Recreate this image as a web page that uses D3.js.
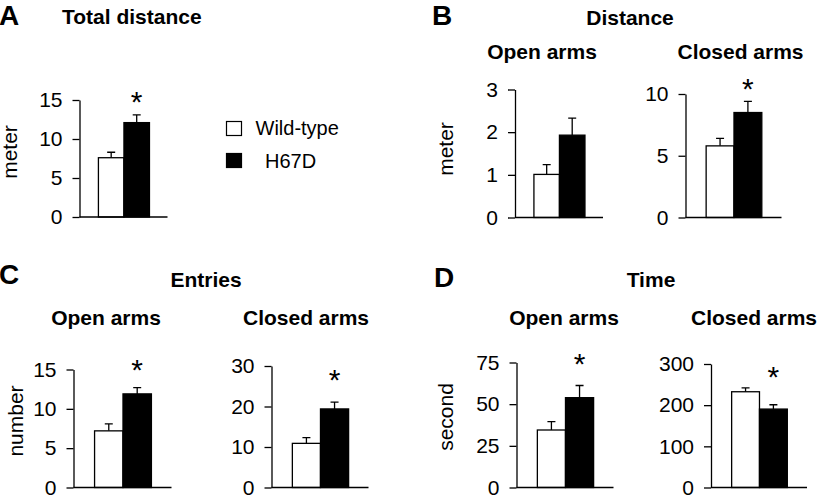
<!DOCTYPE html>
<html>
<head>
<meta charset="utf-8">
<script src="https://cdn.jsdelivr.net/npm/d3@7"></script>
<style>
  body { margin: 0; background: #fff; }
  svg { display: block; }
  text { font-family: "Liberation Sans", Arial, sans-serif; fill: #000; }
</style>
</head>
<body>
<div id="chart"></div>
<script>
// groups (legend order)
const groups = ["Wild-type", "H67D"];

// A: total distance (meter)
const totalDistMean = [7.6, 12.1];
const totalDistSem = [0.7, 1.0];
const totalDistTicks = [0, 5, 10, 15];

// B: distance in open / closed arms (meter)
const distOpenMean = [1.01, 1.93];
const distOpenSem = [0.23, 0.40];
const distOpenTicks = [0, 1, 2, 3];
const distClosedMean = [5.8, 8.5];
const distClosedSem = [0.6, 0.9];
const distClosedTicks = [0, 5, 10];

// C: entries (number)
const entriesOpenMean = [7.2, 11.9];
const entriesOpenSem = [0.9, 0.8];
const entriesOpenTicks = [0, 5, 10, 15];
const entriesClosedMean = [10.9, 19.4];
const entriesClosedSem = [1.4, 1.7];
const entriesClosedTicks = [0, 10, 20, 30];

// D: time (second)
const timeOpenMean = [34.5, 53.9];
const timeOpenSem = [5.0, 7.3];
const timeOpenTicks = [0, 25, 50, 75];
const timeClosedMean = [232.6, 190.5];
const timeClosedSem = [9.4, 10.5];
const timeClosedTicks = [0, 100, 200, 300];

// level of the significance star, in data units (null = none)
const starLevels = [15.6, null, 11.0, 15.8, 28.3, 78.6, 285];

const width = 822, height = 495;
const svg = d3.select("#chart").append("svg")
    .attr("width", width)
    .attr("height", height);

// layout of each small plot
const panels = [
  {mean: totalDistMean, sem: totalDistSem, ticks: totalDistTicks, left: 79.5, w: 88, top: 100, bottom: 217},
  {mean: distOpenMean, sem: distOpenSem, ticks: distOpenTicks, left: 515, w: 88, top: 89.5, bottom: 217.5},
  {mean: distClosedMean, sem: distClosedSem, ticks: distClosedTicks, left: 685.5, w: 96, top: 94, bottom: 217.5},
  {mean: entriesOpenMean, sem: entriesOpenSem, ticks: entriesOpenTicks, left: 73.5, w: 98, top: 369.5, bottom: 487.5},
  {mean: entriesClosedMean, sem: entriesClosedSem, ticks: entriesClosedTicks, left: 271.5, w: 97, top: 366, bottom: 487.5},
  {mean: timeOpenMean, sem: timeOpenSem, ticks: timeOpenTicks, left: 516.5, w: 97, top: 362.5, bottom: 487.5},
  {mean: timeClosedMean, sem: timeClosedSem, ticks: timeClosedTicks, left: 711, w: 96, top: 364, bottom: 487.5}
];

panels.forEach((p, idx) => {
  const y = d3.scaleLinear()
      .domain([0, d3.max(p.ticks)])
      .range([p.bottom, p.top]);
  const x = d3.scaleBand()
      .domain(groups)
      .range([p.left + 0.215 * p.w, p.left + 0.795 * p.w]);

  const g = svg.append("g");
  const rows = groups.map((k, i) => ({k: k, m: p.mean[i], s: p.sem[i], i: i}));

  // error bars (upper whisker only)
  g.selectAll(".err")
    .data(rows)
    .join("path")
      .attr("class", "err")
      .attr("fill", "none")
      .attr("stroke", "#000")
      .attr("stroke-width", 1.3)
      .attr("d", d => {
        const cx = x(d.k) + x.bandwidth() / 2;
        return `M${cx},${y(d.m)}V${y(d.m + d.s)}M${cx - 4},${y(d.m + d.s)}H${cx + 4}`;
      });

  // bars
  g.selectAll(".bar")
    .data(rows)
    .join("rect")
      .attr("class", "bar")
      .attr("x", d => x(d.k))
      .attr("y", d => y(d.m))
      .attr("width", x.bandwidth())
      .attr("height", d => y(0) - y(d.m))
      .attr("fill", d => d.i ? "#000" : "#fff")
      .attr("stroke", "#000")
      .attr("stroke-width", 1.3);

  // baseline
  g.append("line")
      .attr("x1", p.left).attr("x2", p.left + p.w)
      .attr("y1", y(0)).attr("y2", y(0))
      .attr("stroke", "#000")
      .attr("stroke-width", 1.3);

  // y axis
  const axis = g.append("g")
      .attr("transform", `translate(${p.left},0)`)
      .call(d3.axisLeft(y)
        .tickValues(p.ticks)
        .tickFormat(d3.format("d"))
        .tickSize(7)
        .tickSizeOuter(0)
        .tickPadding(10));
  axis.attr("font-size", 21).attr("font-family", null);
  axis.selectAll("path, line").attr("stroke-width", 1.3);

  // star over the mutant bar
  if (starLevels[idx] != null) {
    g.append("text")
      .attr("x", x(groups[1]) + x.bandwidth() / 2)
      .attr("y", y(starLevels[idx]) + 17)
      .attr("text-anchor", "middle")
      .attr("font-size", 30)
      .text("*");
  }
});

// panel letters and titles
const addText = (txt, x, y, size, weight, anchor) =>
  svg.append("text")
    .attr("x", x).attr("y", y)
    .attr("font-size", size)
    .attr("font-weight", weight)
    .attr("text-anchor", anchor)
    .text(txt);

addText("A", -1, 25, 28, "bold", "start");
addText("Total distance", 62, 24, 21, "bold", "start");
addText("B", 432, 25, 28, "bold", "start");
addText("Distance", 630, 25, 21, "bold", "middle");
addText("Open arms", 542, 58.5, 21, "bold", "middle");
addText("Closed arms", 740.5, 58.5, 21, "bold", "middle");
addText("C", -1, 284, 28, "bold", "start");
addText("Entries", 206, 287, 21, "bold", "middle");
addText("Open arms", 106, 325, 21, "bold", "middle");
addText("Closed arms", 306, 325, 21, "bold", "middle");
addText("D", 434, 287, 28, "bold", "start");
addText("Time", 651, 287, 21, "bold", "middle");
addText("Open arms", 564, 325, 21, "bold", "middle");
addText("Closed arms", 754, 325, 21, "bold", "middle");

// y axis labels
const yLabel = (txt, x, y) =>
  svg.append("text")
    .attr("transform", `translate(${x},${y}) rotate(-90)`)
    .attr("text-anchor", "middle")
    .attr("font-size", 21)
    .text(txt);

yLabel("meter", 17, 152);
yLabel("meter", 453, 149);
yLabel("number", 23, 421);
yLabel("second", 453, 417);

// legend
const legend = svg.append("g");
legend.selectAll("rect")
  .data(groups)
  .join("rect")
    .attr("x", 226.5)
    .attr("y", (d, i) => i ? 153.5 : 121.5)
    .attr("width", 15)
    .attr("height", 14)
    .attr("fill", (d, i) => i ? "#000" : "#fff")
    .attr("stroke", "#000")
    .attr("stroke-width", 1.2);
legend.selectAll("text")
  .data(groups)
  .join("text")
    .attr("x", (d, i) => i ? 265 : 255.5)
    .attr("y", (d, i) => i ? 168 : 134.5)
    .attr("font-size", 20)
    .text(d => d);
</script>
</body>
</html>
